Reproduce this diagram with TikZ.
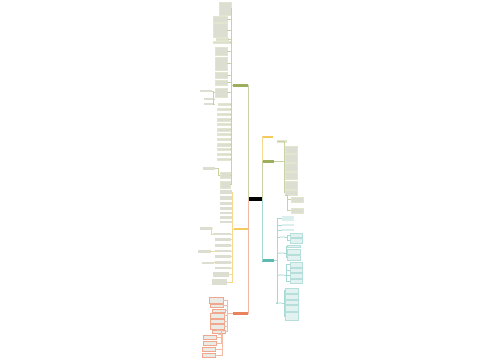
\documentclass[tikz,border=0pt]{standalone}
\usetikzlibrary{positioning}
\definecolor{mapgreen}{HTML}{9CAE5C}
\definecolor{mapyellow}{HTML}{F4C95D}
\definecolor{mapred}{HTML}{E9825E}
\definecolor{mapteal}{HTML}{5DB9B0}
\definecolor{leafgray}{HTML}{DCDED2}
\tikzset{mroot/.style={rectangle,fill=black,inner sep=0pt,minimum width=14pt,minimum height=4pt},
	 mbranch/.style={rectangle,inner sep=0pt,minimum width=14pt,minimum height=3pt},
	 mleaf/.style={rectangle,inner sep=0pt,anchor=north west,fill=leafgray,line width=0.2pt},
	 gline/.style={draw=mapgreen!55,line width=0.35pt},
	 yline/.style={draw=mapyellow!70,line width=0.35pt},
	 rline/.style={draw=mapred!55,line width=0.35pt},
	 tline/.style={draw=mapteal!55,line width=0.35pt}
	 }
\begin{document}
\begin{tikzpicture}[x=1pt,y=-1pt] % mind map, left and right
	\useasboundingbox (0,0) rectangle (500,360);
	\node[mroot] (c) at (255,199) {};
	\node[mbranch,fill=mapgreen,minimum width=15pt] (gb) at (240.5,85.5) {};
	\node[mbranch,fill=mapyellow,minimum height=2pt] (yb) at (241,229) {};
	\node[mbranch,fill=mapred,minimum width=15pt] (rb) at (240.5,313) {};
	\node[mbranch,fill=mapyellow,minimum width=11pt,minimum height=2pt] (ry) at (267.5,136.5) {};
	\node[mbranch,fill=mapgreen,minimum width=12pt] (rg) at (268,161.5) {};
	\node[mbranch,fill=mapteal,minimum width=12pt] (rt) at (268,260.5) {};
	\draw[gline] (c.west) |- (gb.east);
	\draw[rline] (c.west) |- (yb.east);
	\draw[rline] (c.west) |- (rb.east);
	\draw[yline] (c.east) |- (ry.west);
	\draw[gline] (c.east) |- (rg.west);
	\draw[tline] (c.east) |- (rt.west);
	% left, green
	\foreach \x/\y/\w/\h [count=\i] in {219/2/12/13, 213/16/14/6, 213/23/14/14, 216/38/12/2,
		213/41/17/2, 215/47/12/8, 215/57/12/13, 215/72/12/6, 215/80/12/5, 215/88/12/9,
		218/103/12/2, 217/108/13/2, 217/113/13/2, 217/118/13/3, 217/123/13/2, 217/128/13/3,
		217/133/13/2, 217/138/13/2, 217/143/13/3, 217/148/13/2, 217/153/13/2, 217/158/13/2,
		220/172/10/6, 220/181/10/7}{
		\node[mleaf,draw=mapgreen!30,minimum width=\w,minimum height=\h] (g\i) at (\x,\y) {};
		\draw[gline] (gb.west) -- ++(-1.5,0) |- (g\i.east);
	}
	\foreach \x/\y/\w/\h/\p [count=\i] in {200/90/12/2/10, 204/98/10/2/10, 204/103/10/2/10, 203/167/12/3/23}{
		\node[mleaf,minimum width=\w,minimum height=\h] (gg\i) at (\x,\y) {};
		\draw[gline] (g\p.west) -- ++(-1.5,0) |- (gg\i.east);
	}
	% left, yellow
	\foreach \x/\y/\w/\h [count=\i] in {220/190/12/4, 220/196/12/4, 220/202/12/3, 220/207/12/3,
		220/212/12/2, 220/216/12/3, 220/221/12/2, 213/233/18/2, 215/238/16/3, 215/244/16/3,
		215/250/16/2, 215/255/16/3, 215/261/16/3, 215/267/16/2, 213/272/16/5, 212/279/15/6}{
		\node[mleaf,minimum width=\w,minimum height=\h] (y\i) at (\x,\y) {};
		\draw[yline] (yb.west) -- ++(-1.5,0) |- (y\i.east);
	}
	\foreach \x/\y/\w/\h/\p [count=\i] in {200/227/12/3/8, 198/250/13/3/11, 202/262/11/2/13}{
		\node[mleaf,minimum width=\w,minimum height=\h] (yy\i) at (\x,\y) {};
		\draw[yline] (y\p.west) -- ++(-1.5,0) |- (yy\i.east);
	}
	% left, red
	\foreach \x/\y/\w/\h [count=\i] in {209/297/14/6, 210/304/13/3, 212/309/13/3, 210/313/14/5,
		210/319/14/4, 210/324/14/5, 212/330/13/3}{
		\node[mleaf,fill=leafgray!60,draw=mapred!70,minimum width=\w,minimum height=\h] (r\i) at (\x,\y) {};
		\draw[rline] (rb.west) -- ++(-6,0) |- (r\i.east);
	}
	\foreach \x/\y/\w/\h/\p [count=\i] in {203/335/13/4/6, 203/341/13/4/6, 202/347/13/4/7, 202/353/13/4/7}{
		\node[mleaf,fill=leafgray!60,draw=mapred!70,minimum width=\w,minimum height=\h] (rr\i) at (\x,\y) {};
		\draw[rline] (r\p.south) -- ++(0,1) -| ++(4,0) |- (rr\i.east);
	}
	% right, green
	\foreach \x/\y/\w/\h [count=\i] in {277/140/9/2, 285/146/12/7, 285/154/12/8, 285/163/12/8,
		285/172/12/7, 285/181/12/8, 285/190/12/5}{
		\node[mleaf,draw=mapgreen!30,minimum width=\w,minimum height=\h] (q\i) at (\x,\y) {};
		\draw[gline] (rg.east) -- ++(10,0) |- (q\i.west);
	}
	\foreach \x/\y/\w/\h/\p [count=\i] in {291/197/12/5/7, 291/208/12/5/7}{
		\node[mleaf,draw=mapgreen!30,minimum width=\w,minimum height=\h] (qq\i) at (\x,\y) {};
		\draw[gline] (q\p.south west) -- ++(2,0) |- (qq\i.west);
	}
	% right, teal
	\foreach \x/\y/\w/\h [count=\i] in {282/216/12/5, 282/224/12/2, 282/229/12/2, 280/236/5/2,
		279/252/5/2, 279/274/5/2, 276/302/6/2}{
		\node[mleaf,fill=mapteal!22,minimum width=\w,minimum height=\h] (t\i) at (\x,\y) {};
		\draw[tline] (rt.east) -- ++(3,0) |- (t\i.west);
	}
	\foreach \x/\y/\w/\h/\p [count=\i] in {290/233/12/4/4, 290/238/12/5/4,
		287/245/13/2/5, 287/249/13/5/5, 287/255/13/5/5,
		290/262/12/5/6, 290/268/12/4/6, 290/273/12/5/6, 290/279/12/4/6,
		285/288/13/5/7, 285/294/13/5/7, 285/300/13/4/7, 285/305/13/6/7, 285/312/13/8/7}{
		\node[mleaf,fill=mapteal!18,draw=mapteal!45,minimum width=\w,minimum height=\h] (tt\i) at (\x,\y) {};
		\draw[tline] (t\p.east) -- ++(1.5,0) |- (tt\i.west);
	}
\end{tikzpicture}
\end{document}
